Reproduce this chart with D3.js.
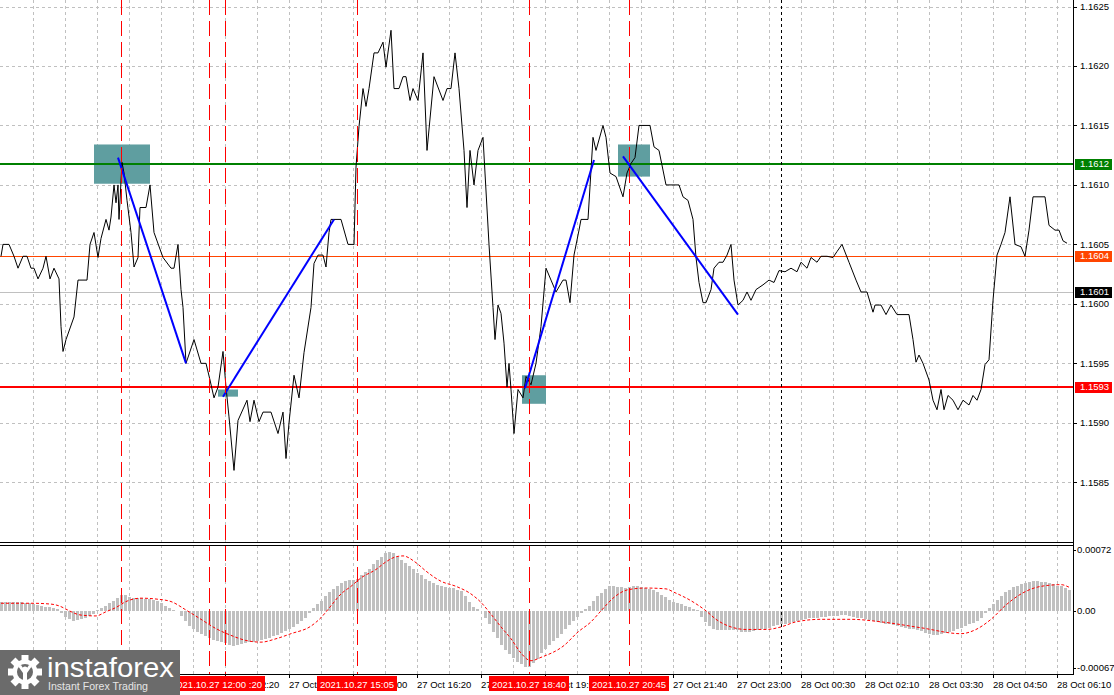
<!DOCTYPE html>
<html><head><meta charset="utf-8">
<script src="https://cdn.jsdelivr.net/npm/d3@7"></script>
<style>
html,body{margin:0;padding:0;background:#fff;overflow:hidden;}
svg{display:block;}
text{font-family:"Liberation Sans",Arial,sans-serif;}
</style></head><body>
<svg id="c" width="1114" height="695"></svg>
<script>
// ---------- DATA ----------
// price line vertices: bar position (M5 bars) and close price
const priceBars = [0,0.5,2,3.25,4.25,5.5,6.5,7.5,8.25,9.25,10.5,11.25,12.25,13.25,14.5,15,15.5,16.25,18.25,19.25,21.5,22.25,23.25,24.25,25,26.25,27,27.5,28.25,28.75,29.25,29.5,30.25,30.75,31.5,32.5,33.25,34.25,34.75,36.25,37.25,38.25,40.5,42.5,43.25,44.25,45,45.5,46.25,48.25,50,51.25,52.25,53.25,54.25,55.5,56.25,57,58.25,59.25,61.5,62.25,63.25,64.5,65.5,67.5,69.25,70.5,71.25,72,73.25,74.5,75.75,77.5,78.25,79.25,80.5,81.25,82,82.5,85,86.75,88.25,88.75,89.5,90.5,91.25,92,93.25,94.25,95.5,96.25,97.5,98.25,99.5,100.5,101.25,102.25,103,104.25,105.5,106.5,108.25,110.5,111.5,112.5,113.5,114.5,115.75,116.5,117.25,118.25,119.25,120.5,121,122,123,123.5,124.25,125,125.75,126.5,127,127.5,128.25,129.25,130.5,131.25,132.5,133.75,135,136.25,137.5,138.75,140.5,141.25,142.25,143.25,144.5,145,146.75,148,148.75,150.5,151.25,152.25,153.75,155.5,156.5,157.5,158.5,159.5,162.25,163.25,164.5,166.25,169.5,170.5,171.75,173,173.75,174.5,175.5,176.25,177.5,178.25,179.5,180.5,181.5,182.5,183.25,184.25,185.5,186.5,187.5,188.75,190.5,192,193.25,194.5,196,197.5,199,200,201.5,202.5,204,205,206.5,208,209,210.25,212,213.75,215,216.5,218,218.5,220,221.25,222.5,224,227,228,228.75,229.5,230.5,232,233,234,235,235.75,236.75,238,239.25,240.5,242,243,244,245,246,247,248,249,250,251,252.25,253.5,255,256,257,258,261,262,263.5,264.5,265.5,266.5];
const priceClose = [1.16040,1.16050,1.16050,1.16040,1.16030,1.16040,1.16040,1.16030,1.16030,1.16021,1.16030,1.16040,1.16021,1.16030,1.16021,1.15981,1.15960,1.15970,1.15989,1.16020,1.16020,1.16050,1.16060,1.16039,1.16055,1.16071,1.16062,1.16073,1.16100,1.16085,1.16100,1.16071,1.16119,1.16110,1.16087,1.16060,1.16031,1.16039,1.16081,1.16081,1.16100,1.16060,1.16039,1.16030,1.16030,1.16050,1.16012,1.15997,1.15950,1.15970,1.15950,1.15950,1.15936,1.15921,1.15930,1.15960,1.15930,1.15905,1.15860,1.15902,1.15919,1.15901,1.15919,1.15901,1.15909,1.15909,1.15891,1.15909,1.15870,1.15900,1.15940,1.15921,1.15959,1.15997,1.16034,1.16041,1.16041,1.16031,1.16060,1.16071,1.16071,1.16050,1.16050,1.16115,1.16149,1.16181,1.16166,1.16181,1.16211,1.16211,1.16220,1.16199,1.16230,1.16181,1.16181,1.16191,1.16191,1.16171,1.16181,1.16171,1.16211,1.16129,1.16191,1.16171,1.16181,1.16181,1.16211,1.16181,1.16129,1.16081,1.16129,1.16100,1.16129,1.16140,1.16110,1.16050,1.15997,1.15970,1.15999,1.15992,1.15967,1.15930,1.15950,1.15928,1.15891,1.15928,1.15921,1.15939,1.15932,1.15950,1.15981,1.16030,1.16020,1.16010,1.16020,1.16020,1.16001,1.16041,1.16062,1.16071,1.16071,1.16140,1.16129,1.16150,1.16140,1.16110,1.16107,1.16090,1.16110,1.16118,1.16123,1.16150,1.16150,1.16132,1.16129,1.16100,1.16100,1.16090,1.16087,1.16071,1.16039,1.16018,1.16001,1.16001,1.16012,1.16030,1.16035,1.16035,1.16041,1.16050,1.16020,1.15999,1.16003,1.16010,1.16003,1.16012,1.16016,1.16020,1.16018,1.16028,1.16027,1.16030,1.16027,1.16035,1.16030,1.16039,1.16035,1.16040,1.16040,1.16039,1.16044,1.16050,1.16035,1.16020,1.16010,1.16010,1.15993,1.15999,1.15999,1.15991,1.15999,1.15991,1.15991,1.15970,1.15951,1.15957,1.15950,1.15936,1.15919,1.15911,1.15928,1.15911,1.15923,1.15919,1.15911,1.15919,1.15915,1.15923,1.15919,1.15928,1.15949,1.15953,1.16003,1.16041,1.16050,1.16060,1.16090,1.16050,1.16048,1.16040,1.16062,1.16090,1.16090,1.16066,1.16062,1.16062,1.16053,1.16051];

// MACD histogram, one value per bar (units of 0.00001)
const macdHist = [10,10,10,10,10,10,9,9, 8,7,6,5,4,3,2, -3, -7,-10,-12,-11,-10,-8,-6,-4, 1,3,6,9,12,15, 19,19, 16,15,15,15,14,14,13,12, 9,6,3,1,0, -6,-12,-18,-22,-25, -27,-30,-32,-34,-36,-37,-38, -40,-41,-40,-39,-38,-37,-37,-36, -34,-33,-32,-30,-28,-26,-24,-22,-19,-16, -12,-8,-3, 3, 8,12,17,22, 26,30,33,35,36,36, 38,42,46,50,55,60,64,68, 70,68,64,60,57,53, 49,45,43,38,35,33,31,29, 28,27,27,25,23, 18,10,5,2, 0, -8,-16,-25,-32, -40,-46,-51,-56,-60,-63,-66,-66, -62,-57,-50,-45, -40,-36,-32,-27,-22,-17,-12, -7,-3, 2,6,12,17,21, 26,29,29, 28,28,27,28,29,29,28,27,26, 25,22,19,16,13,10,9, 8,6,4,2,1, -7,-13, -18,-21,-23,-23,-23,-23,-23,-23, -25,-25,-25,-24,-23,-22,-21,-20,-18,-17,-16,-15,-14,-13,-12, -11,-10,-9,-8,-8,-7,-7,-6,-6,-6, -5,-5,-6,-7,-8,-9,-10,-11,-12,-13, -14,-15,-16,-17,-18,-19,-20,-21,-22,-23, -24,-26,-27,-28,-28,-27,-26,-25,-24,-22,-20,-18,-16,-14,-12,-8,-3, 3,8,13,18,22,25,28,30,32,33,34,35,35,34,34,33,32,30,29,27,25];
const MACD_UNIT = 0.00001;
// MACD signal line vertices
const signalBars = [0,7.5,12.5,15,16.25,20,23.75,26.25,28.75,31.25,35,38.75,42.5,46.25,50,53.75,57.5,61.25,65,68.75,72.5,77.5,80,82.5,85,87.5,90,93.75,96.25,98.75,100.5,103.75,106.25,110,113.75,117.5,120,122.5,125,127.5,130,132.5,135,140.75,144.25,147.5,150,153.25,156.75,161.25,166.25,168.25,172.5,176.25,178.75,182.5,186.25,191.25,195,198.75,205,212.5,220,230,240,243.75,247.5,251.25,255,260,265,267];
const signalVals = [9,9,8,5,2,-5,-6,-1,4,11,15,14,11,1,-10,-21,-29,-35,-37,-33,-27,-18,-8,6,20,29,39,49,58,64,65,57,47,35,29,20,10,-4,-19,-33,-50,-59,-55,-41,-25,-13,0,16,25,27,26,22,12,0,-10,-19,-22,-22,-19,-13,-10,-10,-13,-20,-27,-22,-10,7,20,29,31,28];

// axes
const priceTicks = [1.1625,1.1620,1.1615,1.1610,1.1605,1.1600,1.1595,1.1590,1.1585];
const macdTicks = [0.00072,0,-0.00067];
const macdTickLabels = ["0.00072","0.00","-0.00067"];
const timeTickBars = [8,24,40,56,72,88,104,120,136,152,168,184,200,216,232,248,264];
const timeTickLabels = ["27 Oct 08:20","27 Oct 09:40","27 Oct 11:00","27 Oct 12:20","27 Oct 13:40","27 Oct 15:00","27 Oct 16:20","27 Oct 17:40","27 Oct 19:00","27 Oct 20:20","27 Oct 21:40","27 Oct 23:00","28 Oct 00:30","28 Oct 02:10","28 Oct 03:30","28 Oct 04:50","28 Oct 06:10"];

// horizontal levels
const levelPrices = [1.16118, 1.1604, 1.1601, 1.1593];
const levelLabels = ["1.1612","1.1604","1.1601","1.1593"];
const levelColors = ["#008000","#ff4500","#c0c0c0","#ff0000"];
const levelLabelBg = ["#008000","#ff4500","#000000","#ff0000"];
const levelWidths = [2,1,1,2];

// vertical event lines
const eventBars = [30,56,52,89,132,157];
const eventLabels = ["2021.10.27 10:10","2021.10.27 12:20","2021.10.27 12:00","2021.10.27 15:05","2021.10.27 18:40","2021.10.27 20:45"];
const separatorBar = 195;

// trend lines [bar, price]
const trendFrom = [[29.25,1.16123],[55.5,1.15922],[131,1.15929],[155.5,1.16124]];
const trendTo   = [[46.25,1.15950],[83.25,1.16071],[148.25,1.16121],[184.25,1.15991]];

// zones [barStart, barEnd] / [priceLow, priceHigh]
const zoneBars   = [[23.25,37.25],[54.25,59.25],[130.25,136.25],[154.25,162.25]];
const zonePrices = [[1.16101,1.16134],[1.15922,1.15928],[1.15916,1.15940],[1.16107,1.16134]];

// ---------- DRAW ----------
const svg = d3.select("#c");
const W = 1114, H = 695;
const plotR = 1073, mainBottom = 542, macdTop = 545, macdBottom = 674;
const logoRight = 180;

const x = d3.scaleLinear().domain([0,268]).range([1,1073]);
const y = d3.scaleLinear().domain([1.1585,1.1625]).range([482.3,6.5]);
const ym = d3.scaleLinear().domain([-0.00067,0.00072]).range([667.5,550]);

svg.append("rect").attr("width",W).attr("height",H).attr("fill","#fff");

const defs = svg.append("defs");
defs.append("clipPath").attr("id","mainClip").append("rect").attr("x",0).attr("y",0).attr("width",plotR).attr("height",mainBottom);
defs.append("clipPath").attr("id","macdClip").append("rect").attr("x",0).attr("y",macdTop+1).attr("width",plotR).attr("height",macdBottom-macdTop-1);

// grid
const gridBars = d3.range(8,268,8);
const grid = svg.append("g").attr("stroke","#c0c0c0").attr("stroke-width",1).attr("stroke-dasharray","3,3").attr("shape-rendering","crispEdges");
grid.selectAll("line.v1").data(gridBars).join("line").attr("class","v1").attr("x1",d=>Math.round(x(d))+0.5).attr("x2",d=>Math.round(x(d))+0.5).attr("y1",0).attr("y2",mainBottom);
grid.selectAll("line.v2").data(gridBars).join("line").attr("class","v2").attr("x1",d=>Math.round(x(d))+0.5).attr("x2",d=>Math.round(x(d))+0.5).attr("y1",macdTop).attr("y2",macdBottom);
grid.selectAll("line.h").data(priceTicks).join("line").attr("class","h").attr("x1",0).attr("x2",plotR).attr("y1",d=>Math.round(y(d))+0.5).attr("y2",d=>Math.round(y(d))+0.5);

// MACD panel
const mg = svg.append("g").attr("clip-path","url(#macdClip)");
mg.selectAll("rect").data(macdHist).join("rect")
  .attr("x",(d,i)=>Math.round(x(i))-1)
  .attr("width",3)
  .attr("y",d=>Math.min(ym(d*MACD_UNIT),ym(0)))
  .attr("height",d=>Math.abs(ym(d*MACD_UNIT)-ym(0)))
  .attr("fill","#c0c0c0").attr("shape-rendering","crispEdges");
mg.append("path").datum(signalBars.map((b,i)=>[b,signalVals[i]*MACD_UNIT]))
  .attr("d",d3.line().x(d=>x(d[0])).y(d=>ym(d[1])).curve(d3.curveMonotoneX))
  .attr("fill","none").attr("stroke","#ff0000").attr("stroke-width",1).attr("stroke-dasharray","3,2");

// main panel
const mp = svg.append("g").attr("clip-path","url(#mainClip)");
mp.selectAll("rect.zone").data(zoneBars).join("rect").attr("class","zone")
  .attr("x",d=>x(d[0])).attr("width",d=>x(d[1])-x(d[0]))
  .attr("y",(d,i)=>y(zonePrices[i][1])).attr("height",(d,i)=>Math.max(6,y(zonePrices[i][0])-y(zonePrices[i][1])))
  .attr("fill","#5f9ea0");
mp.selectAll("line.lvl").data(levelPrices).join("line").attr("class","lvl")
  .attr("x1",0).attr("x2",plotR)
  .attr("y1",d=>Math.round(y(d))).attr("y2",d=>Math.round(y(d)))
  .attr("stroke",(d,i)=>levelColors[i]).attr("stroke-width",(d,i)=>levelWidths[i]).attr("shape-rendering","crispEdges");

// event vertical lines (full height)
svg.append("g").selectAll("line").data(eventBars).join("line")
  .attr("x1",d=>Math.round(x(d))+0.5).attr("x2",d=>Math.round(x(d))+0.5)
  .attr("y1",0).attr("y2",macdBottom)
  .attr("stroke","#ff0000").attr("stroke-width",1).attr("stroke-dasharray","15,6").attr("shape-rendering","crispEdges");
svg.append("line").attr("x1",Math.round(x(separatorBar))+0.5).attr("x2",Math.round(x(separatorBar))+0.5)
  .attr("y1",0).attr("y2",macdBottom).attr("stroke","#000").attr("stroke-dasharray","3,3").attr("shape-rendering","crispEdges");

// price line
mp.append("path").datum(priceBars.map((b,i)=>[b,priceClose[i]]))
  .attr("d",d3.line().x(d=>x(d[0])).y(d=>y(d[1])))
  .attr("fill","none").attr("stroke","#000").attr("stroke-width",1);
// trend lines
mp.selectAll("line.tr").data(trendFrom).join("line").attr("class","tr")
  .attr("x1",d=>x(d[0])).attr("y1",d=>y(d[1]))
  .attr("x2",(d,i)=>x(trendTo[i][0])).attr("y2",(d,i)=>y(trendTo[i][1]))
  .attr("stroke","#0000ff").attr("stroke-width",2);

// panel borders
const borders = svg.append("g").attr("stroke","#000").attr("stroke-width",1).attr("shape-rendering","crispEdges");
borders.append("line").attr("x1",0).attr("x2",plotR).attr("y1",mainBottom+0.5).attr("y2",mainBottom+0.5);
borders.append("line").attr("x1",0).attr("x2",plotR).attr("y1",macdTop+0.5).attr("y2",macdTop+0.5);
borders.append("line").attr("x1",0).attr("x2",plotR).attr("y1",macdBottom+0.5).attr("y2",macdBottom+0.5);
borders.append("line").attr("x1",plotR+0.5).attr("x2",plotR+0.5).attr("y1",0).attr("y2",macdBottom+1);

// right price axis
const ax = svg.append("g").attr("font-size","9.5px").attr("fill","#000");
ax.selectAll("line").data(priceTicks).join("line")
  .attr("x1",plotR).attr("x2",plotR+4).attr("y1",d=>Math.round(y(d))+0.5).attr("y2",d=>Math.round(y(d))+0.5)
  .attr("stroke","#000").attr("shape-rendering","crispEdges");
ax.selectAll("text").data(priceTicks).join("text")
  .attr("x",1080).attr("y",d=>y(d)).attr("dy","0.35em").text(d=>d.toFixed(4));

// level labels
const ll = svg.append("g").attr("font-size","9.5px");
ll.selectAll("rect").data(levelPrices).join("rect")
  .attr("x",1075).attr("width",37).attr("y",d=>Math.round(y(d))-5).attr("height",11)
  .attr("fill",(d,i)=>levelLabelBg[i]);
ll.selectAll("text").data(levelPrices).join("text")
  .attr("x",1080).attr("y",d=>Math.round(y(d))).attr("dy","0.35em").attr("fill","#fff").text((d,i)=>levelLabels[i]);

// macd axis
const mx = svg.append("g").attr("font-size","9.5px");
mx.selectAll("line").data(macdTicks).join("line")
  .attr("x1",plotR).attr("x2",plotR+3).attr("y1",d=>Math.round(ym(d))+0.5).attr("y2",d=>Math.round(ym(d))+0.5)
  .attr("stroke","#000").attr("shape-rendering","crispEdges");
mx.selectAll("text").data(macdTicks).join("text")
  .attr("x",1077).attr("y",d=>ym(d)).attr("dy","0.35em").text((d,i)=>macdTickLabels[i]);

// time axis (labels fully hidden by the logo or by event boxes are not drawn)
const tx = svg.append("g").attr("font-size","9.5px");
tx.selectAll("line").data(timeTickBars).join("line")
  .attr("x1",d=>Math.round(x(d))+0.5).attr("x2",d=>Math.round(x(d))+0.5).attr("y1",macdBottom).attr("y2",macdBottom+4)
  .attr("stroke","#000").attr("shape-rendering","crispEdges");
const visibleTimes = timeTickBars.map((b,i)=>({b,t:timeTickLabels[i]})).filter(d=>x(d.b)+55>logoRight+45);
tx.selectAll("text").data(visibleTimes).join("text")
  .attr("x",d=>x(d.b)).attr("y",688).text(d=>d.t);

// event labels
const el = svg.append("g").attr("font-size","9.5px");
eventBars.forEach((b,i)=>{
  const cx = x(b);
  if (cx+40 <= logoRight) return; // entirely under the logo
  el.append("rect").attr("x",cx-40).attr("y",676).attr("width",80).attr("height",15).attr("fill","#ff0000");
  el.append("text").attr("x",cx).attr("y",688).attr("text-anchor","middle").attr("fill","#fff").text(eventLabels[i]);
});

// logo
const lg = svg.append("g");
lg.append("rect").attr("x",0).attr("y",650).attr("width",logoRight).attr("height",45).attr("fill","#6b6b6b");
const gear = lg.append("g").attr("transform","translate(25,672)");
d3.range(8).forEach(k=>{
  gear.append("rect").attr("x",-3.5).attr("y",-17).attr("width",7).attr("height",8).attr("fill","#fff")
    .attr("transform",`rotate(${k*45})`);
});
gear.append("circle").attr("r",12.5).attr("fill","#fff");
gear.append("circle").attr("r",8).attr("fill","#6b6b6b");
gear.append("circle").attr("cy",-3).attr("r",2.6).attr("fill","#fff");
gear.append("path").attr("d","M-7,-6 L-2,1 L-2,12 L2,12 L2,1 L7,-6 L4,-7 L0,-1 L-4,-7 Z").attr("fill","#fff");
lg.append("text").attr("x",47).attr("y",677).attr("font-family","'Open Sans',sans-serif").attr("font-size","27px")
  .attr("fill","#fff").attr("textLength",127).attr("lengthAdjust","spacingAndGlyphs").text("instaforex");
lg.append("text").attr("x",48).attr("y",690).attr("font-family","'Open Sans',sans-serif").attr("font-size","11px")
  .attr("fill","#e6e6e6").attr("textLength",100).attr("lengthAdjust","spacingAndGlyphs").text("Instant Forex Trading");
</script>
</body></html>
